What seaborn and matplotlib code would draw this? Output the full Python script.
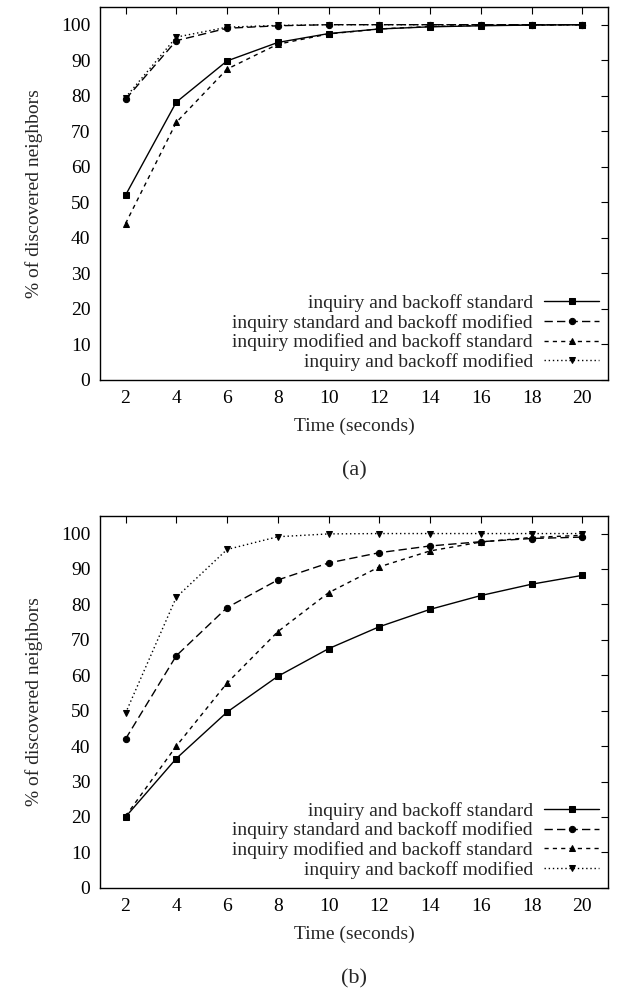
import matplotlib
matplotlib.use("Agg")
import matplotlib.pyplot as plt
import seaborn as sns
import pandas as pd

sns.set_theme(style="white")
plt.rcParams['font.family'] = ['Liberation Serif', 'DejaVu Serif']
plt.rcParams['mathtext.fontset'] = 'stix'

time_s = [2, 4, 6, 8, 10, 12, 14, 16, 18, 20]
series_names = [
    "inquiry and backoff standard",
    "inquiry standard and backoff modified",
    "inquiry modified and backoff standard",
    "inquiry and backoff modified",
]
# (a)
a_std_std = [52, 78.2, 89.8, 95, 97.5, 98.8, 99.4, 99.7, 99.9, 100]
a_std_mod = [79, 95.5, 99, 99.7, 100, 100, 100, 100, 100, 100]
a_mod_std = [44, 72.5, 87.5, 94.5, 97.4, 98.8, 99.5, 99.8, 99.9, 100]
a_mod_mod = [79.5, 96.5, 99.3, 99.8, 100, 100, 100, 100, 100, 100]
# (b)
b_std_std = [20, 36.5, 49.6, 59.7, 67.5, 73.7, 78.6, 82.5, 85.7, 88.2]
b_std_mod = [42, 65.5, 79.1, 86.9, 91.7, 94.6, 96.5, 97.7, 98.6, 99]
b_mod_std = [20.2, 40, 57.8, 72.3, 83.3, 90.6, 95.1, 97.6, 98.9, 99.5]
b_mod_mod = [49.3, 82, 95.5, 99.1, 99.9, 100, 100, 100, 100, 100]

panel_labels = ["(a)", "(b)"]

styles = [
    dict(marker='s', linestyle='-', markersize=4.5),
    dict(marker='o', linestyle=(0, (6, 3)), markersize=4.5),
    dict(marker='^', linestyle=(0, (3, 3)), markersize=4.5),
    dict(marker='v', linestyle=(0, (1, 2)), markersize=4.5),
]

fig = plt.figure(figsize=(6.22, 9.92), dpi=100)
axes_rects = [[0.161, 0.617, 0.816, 0.376], [0.161, 0.105, 0.816, 0.375]]
datasets = [[a_std_std, a_std_mod, a_mod_std, a_mod_mod],
            [b_std_std, b_std_mod, b_mod_std, b_mod_mod]]

FS = 14
for rect, data, plab in zip(axes_rects, datasets, panel_labels):
    ax = fig.add_axes(rect)
    for name, vals, st in zip(series_names, data, styles):
        df = pd.DataFrame({"t": time_s, "v": vals})
        sns.lineplot(data=df, x="t", y="v", ax=ax, color="black", linewidth=1.0,
                     marker=st['marker'], markersize=st['markersize'],
                     markeredgecolor='black', markerfacecolor='black',
                     label=name)
        ax.lines[-1].set_linestyle(st['linestyle'])
    ax.set_xlim(1, 21)
    ax.set_ylim(0, 105)
    ax.set_xticks(time_s)
    ax.set_yticks(range(0, 101, 10))
    ax.tick_params(direction='in', length=5, width=0.8, top=True, right=True,
                   labelsize=FS, colors='black', pad=7)
    for s in ax.spines.values():
        s.set_color('black')
        s.set_linewidth(1.0)
    ax.set_xlabel("Time (seconds)", fontsize=FS, labelpad=8)
    ax.set_ylabel("% of discovered neighbors", fontsize=FS, labelpad=13)
    leg = ax.legend(loc='lower right', markerfirst=False, frameon=False,
                    fontsize=FS, handlelength=2.8, handletextpad=0.6,
                    labelspacing=0.1, borderaxespad=0.25, borderpad=0.2)
    for h in leg.get_lines():
        h.set_linewidth(1.0)
    ax.text(0.5, -0.245, plab, transform=ax.transAxes, ha='center', va='center',
            fontsize=16)

fig.savefig("out.png", dpi=100)
